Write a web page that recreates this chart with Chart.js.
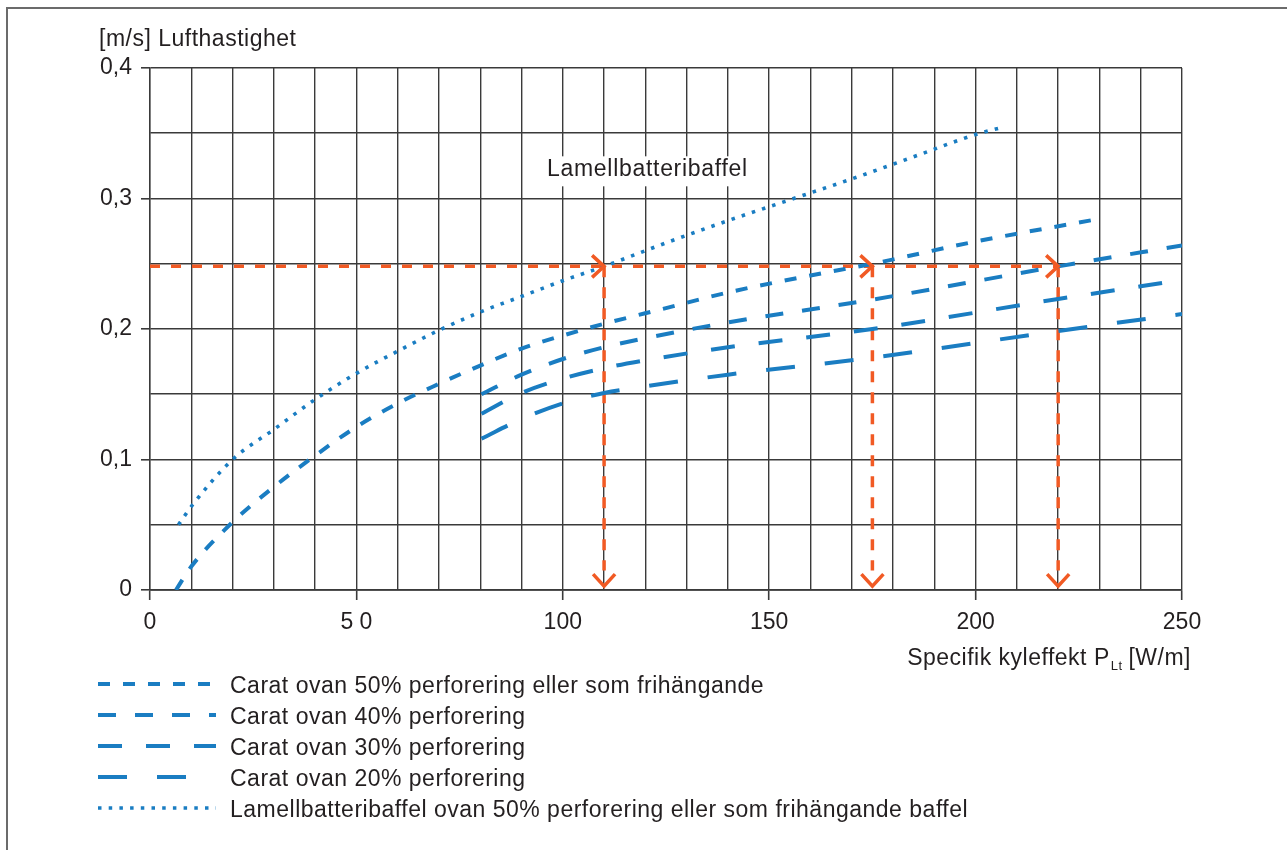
<!DOCTYPE html>
<html>
<head>
<meta charset="utf-8">
<script src="https://cdn.jsdelivr.net/npm/chart.js@4.4.1/dist/chart.umd.min.js"></script>
<style>
  html, body { margin: 0; padding: 0; background: #fff; overflow: hidden; }
  #wrap { position: relative; width: 1287px; height: 850px; }
  #frame { position: absolute; left: 6px; top: 7px; width: 1290px; height: 860px;
           border-left: 2px solid #6b6b6b; border-top: 2px solid #6b6b6b; box-sizing: border-box; }
  canvas { position: absolute; left: 0; top: 0; }
</style>
</head>
<body>
<div id="wrap">
  <div id="frame"></div>
  <canvas id="chart" width="1287" height="850"></canvas>
</div>
<script>
// --- data ---
const xTickLabels = { 0: "0", 50: "5 0", 100: "100", 150: "150", 200: "200", 250: "250" };
const yTickLabels = { 0: "0", 10: "0,1", 20: "0,2", 30: "0,3", 40: "0,4" };

// Lamellbatteribaffel (prickad)
const lamX = [6.9, 10, 20, 30, 40, 50, 60, 70, 80, 90, 100, 110, 125, 140, 155, 170, 185, 200, 207];
const lamY = [0.050, 0.064, 0.100, 0.123, 0.146, 0.166, 0.183, 0.199, 0.213, 0.225, 0.237, 0.248, 0.266, 0.283, 0.299, 0.315, 0.332, 0.349, 0.355];

// Carat 50%
const c50X = [6.3, 10, 20, 30, 40, 50, 60, 70, 80, 90, 100, 110, 125, 140, 160, 175, 200, 231];
const c50Y = [0, 0.018, 0.052, 0.079, 0.103, 0.125, 0.143, 0.158, 0.172, 0.185, 0.195, 0.204, 0.216, 0.228, 0.241, 0.250, 0.267, 0.285];

// Carat 40 / 30 / 20 %
const cX   = [80.3, 90, 100, 110, 120, 140, 175, 220, 250];
const c40Y = [0.150, 0.165, 0.177, 0.186, 0.193, 0.205, 0.2225, 0.248, 0.264];
const c30Y = [0.135, 0.151, 0.162, 0.170, 0.176, 0.186, 0.200, 0.223, 0.2375];
const c20Y = [0.116, 0.131, 0.143, 0.151, 0.156, 0.165, 0.178, 0.1985, 0.2115];

// exempel-avläsning (orange)
const readY = 0.248;
const readX = [110, 175, 220];
const readBottom = 0.003;

const legendLabels = [
  "Carat ovan 50% perforering eller som frihängande",
  "Carat ovan 40% perforering",
  "Carat ovan 30% perforering",
  "Carat ovan 20% perforering",
  "Lamellbatteribaffel ovan 50% perforering eller som frihängande baffel"
];
const annotationText = "Lamellbatteribaffel";
const yTitle = "[m/s] Lufthastighet";

// --- styles ---
const BLUE = "#1a7dc2";
const ORANGE = "#f15a24";
const GRID = "#3a3a3a";
const TXT = "#231f20";
const FONT = "'Liberation Sans', Arial, sans-serif";

const pts = (xs, ys) => xs.map((x, i) => ({ x, y: ys[i] }));

const lineStyles = [
  { dash: [12, 13], width: 4 },
  { dash: [18, 19], width: 4 },
  { dash: [24, 24], width: 4 },
  { dash: [29, 30], width: 4 },
  { dash: [3.5, 7.2], width: 3.6 }
];

function blueSet(label, data, st) {
  return {
    label, data,
    borderColor: BLUE, borderWidth: st.width, borderDash: st.dash,
    borderCapStyle: "butt", pointRadius: 0, fill: false,
    cubicInterpolationMode: "monotone"
  };
}

const datasets = [
  blueSet(legendLabels[0], pts(c50X, c50Y), lineStyles[0]),
  blueSet(legendLabels[1], pts(cX, c40Y), lineStyles[1]),
  blueSet(legendLabels[2], pts(cX, c30Y), lineStyles[2]),
  blueSet(legendLabels[3], pts(cX, c20Y), lineStyles[3]),
  blueSet(legendLabels[4], pts(lamX, lamY), lineStyles[4]),
  { label: "read-h", data: [{ x: 0, y: readY }, { x: readX[readX.length - 1], y: readY }],
    borderColor: ORANGE, borderWidth: 3.5, borderDash: [10, 11], pointRadius: 0, fill: false }
];
readX.forEach(x => {
  datasets.push({ label: "read-v", data: [{ x, y: readY }, { x, y: readBottom + 0.012 }],
    borderColor: ORANGE, borderWidth: 3.5, borderDash: [11, 10], pointRadius: 0, fill: false });
});

// arrowheads, annotation text, titles and legend
const extras = {
  id: "extras",
  beforeDatasetsDraw(chart) {
    const { ctx, scales: { x, y } } = chart;
    // white box behind the annotation
    ctx.save();
    ctx.font = `23px ${FONT}`;
    ctx.letterSpacing = "0.7px";
    const w = ctx.measureText(annotationText).width;
    const cx = x.getPixelForValue(120.5), by = y.getPixelForValue(0.317);
    ctx.fillStyle = "#fff";
    ctx.fillRect(cx - w / 2 - 3, by - 20, w + 6, 30);
    ctx.fillStyle = TXT;
    ctx.textAlign = "center";
    ctx.textBaseline = "alphabetic";
    ctx.fillText(annotationText, cx, by);
    ctx.restore();
  },
  afterDatasetsDraw(chart) {
    const { ctx, scales: { x, y } } = chart;
    ctx.save();
    ctx.strokeStyle = ORANGE;
    ctx.lineWidth = 3.5;
    ctx.lineCap = "butt";
    ctx.lineJoin = "miter";
    readX.forEach(v => {
      const px = x.getPixelForValue(v);
      // ">" at the horizontal line
      const py = y.getPixelForValue(readY);
      ctx.beginPath();
      ctx.moveTo(px - 12, py - 11);
      ctx.lineTo(px, py);
      ctx.lineTo(px - 12, py + 11);
      ctx.stroke();
      // "v" at the bottom
      const pb = y.getPixelForValue(readBottom);
      ctx.beginPath();
      ctx.moveTo(px - 11, pb - 12);
      ctx.lineTo(px, pb);
      ctx.lineTo(px + 11, pb - 12);
      ctx.stroke();
    });
    ctx.restore();
  },
  afterDraw(chart) {
    const { ctx } = chart;
    ctx.save();
    ctx.fillStyle = TXT;
    ctx.textBaseline = "alphabetic";
    ctx.letterSpacing = "0.5px";

    // y title
    ctx.font = `23px ${FONT}`;
    ctx.textAlign = "left";
    ctx.fillText(yTitle, 99, 46);

    // x title (with subscript), right aligned
    const t1 = "Specifik kyleffekt P", sub = "Lt", t2 = " [W/m]";
    ctx.font = `23px ${FONT}`;
    const w1 = ctx.measureText(t1).width, w3 = ctx.measureText(t2).width;
    ctx.font = `13px ${FONT}`;
    const w2 = ctx.measureText(sub).width;
    const xs = 1191 - (w1 + w2 + w3);
    ctx.font = `23px ${FONT}`;
    ctx.fillText(t1, xs, 665);
    ctx.font = `13px ${FONT}`;
    ctx.fillText(sub, xs + w1 + 1, 670);
    ctx.font = `23px ${FONT}`;
    ctx.fillText(t2, xs + w1 + w2, 665);

    // legend
    legendLabels.forEach((lab, i) => {
      const base = 693 + i * 31;
      const st = lineStyles[i];
      ctx.save();
      ctx.strokeStyle = BLUE;
      ctx.lineWidth = st.width;
      ctx.setLineDash(st.dash);
      ctx.beginPath();
      ctx.moveTo(98, base - 9);
      ctx.lineTo(216, base - 9);
      ctx.stroke();
      ctx.restore();
      ctx.font = `23px ${FONT}`;
      ctx.fillText(lab, 230, base);
    });
    ctx.restore();
  }
};

new Chart(document.getElementById("chart"), {
  type: "line",
  data: { datasets },
  options: {
    responsive: false,
    animation: false,
    layout: { padding: { left: 90, top: 68, right: 105, bottom: 210 } },
    plugins: { legend: { display: false }, tooltip: { enabled: false } },
    scales: {
      x: {
        type: "linear", min: 0, max: 250,
        afterFit: s => { s.height = 50; },
        ticks: {
          stepSize: 10, autoSkip: false, maxRotation: 0, padding: 9,
          color: TXT, font: { family: FONT, size: 23 },
          callback: v => xTickLabels[Math.round(v)] ?? ""
        },
        grid: {
          color: GRID, lineWidth: 1.4, tickLength: 10,
          tickColor: c => (Math.round(c.tick.value) % 50 === 0 ? GRID : "rgba(0,0,0,0)"),
          tickWidth: 1.6
        },
        border: { color: GRID, width: 1.7 }
      },
      y: {
        type: "linear", min: 0, max: 0.4,
        afterFit: s => { s.width = 60; },
        ticks: {
          stepSize: 0.05, autoSkip: false, padding: 9,
          color: TXT, font: { family: FONT, size: 23 },
          callback: v => yTickLabels[Math.round(v * 100)] ?? ""
        },
        grid: {
          color: GRID, lineWidth: 1.6, tickLength: 9,
          tickColor: c => (Math.round(c.tick.value * 100) % 10 === 0 ? GRID : "rgba(0,0,0,0)"),
          tickWidth: 1.6
        },
        border: { color: GRID, width: 1.4 }
      }
    }
  },
  plugins: [extras]
});
</script>
</body>
</html>
